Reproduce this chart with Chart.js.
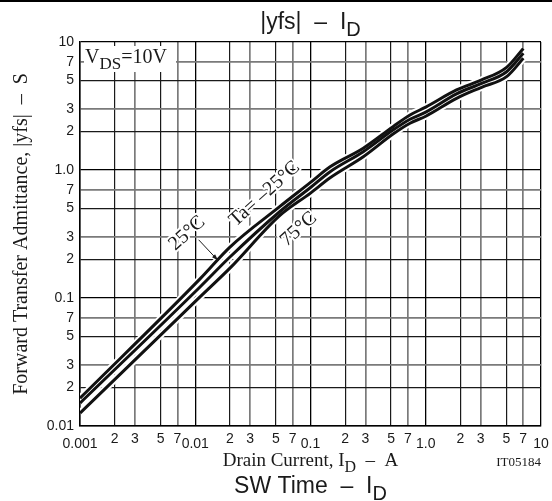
<!DOCTYPE html>
<html><head><meta charset="utf-8">
<script src="https://cdn.jsdelivr.net/npm/chart.js@4.4.0/dist/chart.umd.min.js"></script>
<style>html,body{margin:0;padding:0;background:#fff;}#wrap{width:552px;height:501px;}</style>
</head><body><div id="wrap"><canvas id="c" width="552" height="501"></canvas></div>
<script>
const drainCurrent = [0.001, 0.011, 0.02, 0.054, 0.1, 0.148, 0.287, 0.52, 0.73, 1.0, 1.85, 3.05, 5.03, 7.03];
const yfsTaMinus25 = [0.0165, 0.141, 0.25, 0.517, 0.80, 1.06, 1.48, 2.18, 2.69, 3.1, 4.22, 5.05, 6.34, 8.9];
const yfsTa25 = [0.0151, 0.122, 0.209, 0.472, 0.73, 0.97, 1.39, 2.05, 2.49, 2.83, 3.93, 4.75, 5.86, 8.17];
const yfsTa75 = [0.0126, 0.102, 0.171, 0.44, 0.66, 0.87, 1.27, 1.91, 2.32, 2.63, 3.63, 4.43, 5.36, 7.46];
const seriesLabels = ['Ta= \u201325\u00b0C', '25\u00b0C', '75\u00b0C'];
const xTickValues = [0.001,0.002,0.003,0.005,0.007,0.01,0.02,0.03,0.05,0.07,0.1,0.2,0.3,0.5,0.7,1,2,3,5,7,10];
const xTickLabels = ['0.001','2','3','5','7','0.01','2','3','5','7','0.1','2','3','5','7','1.0','2','3','5','7','10'];
const yTickValues = [0.01,0.02,0.03,0.05,0.07,0.1,0.2,0.3,0.5,0.7,1,2,3,5,7,10];
const yTickLabels = ['0.01','2','3','5','7','0.1','2','3','5','7','1.0','2','3','5','7','10'];

const SANS = '"Liberation Sans", Arial, sans-serif';
const SERIF = '"Liberation Serif", "Times New Roman", serif';

function pts(ys){ return drainCurrent.map((x,i)=>({x:x, y:ys[i]})); }
const allSeries = [yfsTaMinus25, yfsTa25, yfsTa75];
const datasets = [];
allSeries.forEach((s,i)=>{
  datasets.push({label: seriesLabels[i]+' halo', data: pts(s), borderColor:'#fff', borderWidth:7, pointRadius:0, cubicInterpolationMode:'monotone', order:1});
});
allSeries.forEach((s,i)=>{
  datasets.push({label: seriesLabels[i], data: pts(s), borderColor:'#111', borderWidth:3, pointRadius:0, cubicInterpolationMode:'monotone', order:0});
});

function isDecade(v){ const l = Math.log10(v); return Math.abs(l - Math.round(l)) < 1e-6; }
function mant(v){ return Math.round(v / Math.pow(10, Math.floor(Math.log10(v)+1e-9))); }
function gridColor(v){
  if (isDecade(v)) return '#000';
  const m = mant(v);
  return (m===3||m===7) ? '#7a7a7a' : '#1a1a1a';
}
function gridWidth(v){
  if (isDecade(v)) return 1.3;
  const m = mant(v);
  return (m===3||m===7) ? 1.7 : 1.2;
}

function rich(ctx, parts, x, y, align, size, family){
  let w = 0;
  const meas = parts.map(p=>{
    ctx.font = (p.sub ? Math.round(size*0.85) : size) + 'px ' + family;
    const mw = ctx.measureText(p.t).width; w += mw; return mw;
  });
  let cx = align==='center' ? x - w/2 : (align==='right' ? x - w : x);
  ctx.textAlign = 'left'; ctx.textBaseline = 'alphabetic';
  parts.forEach((p,i)=>{
    ctx.font = (p.sub ? Math.round(size*0.85) : size) + 'px ' + family;
    ctx.fillText(p.t, cx, y + (p.sub ? size*0.3 : 0));
    cx += meas[i];
  });
  return w;
}

const textPlugin = {
  id:'texts',
  afterDraw(chart){
    const ctx = chart.ctx, xs = chart.scales.x, ys = chart.scales.y, a = chart.chartArea;
    ctx.save();
    ctx.fillStyle = '#000'; ctx.fillRect(0,0,552,2);
    ctx.fillStyle = '#1a1a1a';
    ctx.font = '14px ' + SANS; ctx.textAlign='right'; ctx.textBaseline='middle';
    yTickValues.forEach((v,i)=>{ ctx.fillText(yTickLabels[i], a.left - 6, ys.getPixelForValue(v)); });
    ctx.textAlign='center'; ctx.textBaseline='top';
    xTickValues.forEach((v,i)=>{
      const dec = isDecade(v);
      ctx.fillText(xTickLabels[i], xs.getPixelForValue(v), a.bottom + (dec ? 11 : 6));
    });
    const midX = (a.left + a.right)/2;
    rich(ctx, [{t:'|yfs|  \u2013  I'},{t:'D', sub:true}], midX, 29, 'center', 23, SANS);
    rich(ctx, [{t:'SW Time  \u2013  I'},{t:'D', sub:true}], midX, 493, 'center', 23, SANS);
    rich(ctx, [{t:'Drain Current, I'},{t:'D', sub:true},{t:'  \u2013  A'}], midX, 466, 'center', 19, SERIF);
    ctx.font = '13px ' + SERIF; ctx.textAlign='right'; ctx.textBaseline='alphabetic';
    ctx.fillText('IT05184', a.right, 466);
    ctx.save();
    ctx.translate(27, (a.top + a.bottom)/2);
    ctx.rotate(-Math.PI/2);
    rich(ctx, [{t:'Forward Transfer Admittance, |yfs|  \u2013  S'}], 0, 0, 'center', 20, SERIF);
    ctx.restore();
    ctx.fillStyle = '#fff';
    ctx.fillRect(a.left + 4, a.top + 4, 92, 26);
    ctx.fillStyle = '#1a1a1a';
    rich(ctx, [{t:'V'},{t:'DS', sub:true},{t:'=10V'}], a.left + 5, a.top + 21, 'left', 20, SERIF);
    function rot(text, x, y, ang){
      ctx.save(); ctx.translate(x,y); ctx.rotate(ang);
      ctx.font = '20px ' + SERIF; ctx.textAlign='center'; ctx.textBaseline='middle';
      ctx.lineWidth = 4; ctx.strokeStyle='#fff'; ctx.lineJoin='round';
      ctx.strokeText(text,0,0); ctx.fillStyle='#1a1a1a'; ctx.fillText(text,0,0);
      ctx.restore();
    }
    const ang = -42*Math.PI/180;
    rot('25\u00b0C', xs.getPixelForValue(0.0085), ys.getPixelForValue(0.32), ang);
    rot(seriesLabels[0], xs.getPixelForValue(0.040), ys.getPixelForValue(0.65), ang);
    rot('75\u00b0C', xs.getPixelForValue(0.079), ys.getPixelForValue(0.345), ang);
    const x0 = xs.getPixelForValue(0.0107), y0 = ys.getPixelForValue(0.285);
    const x1 = xs.getPixelForValue(0.0158), y1 = ys.getPixelForValue(0.196);
    ctx.strokeStyle='#1a1a1a'; ctx.lineWidth=1;
    ctx.beginPath(); ctx.moveTo(x0,y0); ctx.lineTo(x1,y1); ctx.stroke();
    const th = Math.atan2(y1-y0, x1-x0);
    ctx.beginPath(); ctx.moveTo(x1,y1);
    ctx.lineTo(x1 - 7*Math.cos(th-0.3), y1 - 7*Math.sin(th-0.3));
    ctx.lineTo(x1 - 7*Math.cos(th+0.3), y1 - 7*Math.sin(th+0.3));
    ctx.closePath(); ctx.fillStyle='#1a1a1a'; ctx.fill();
    ctx.restore();
  }
};

new Chart(document.getElementById('c'), {
  type:'line',
  data:{datasets},
  options:{
    responsive:false, animation:false, devicePixelRatio:1,
    layout:{padding:{left:80, right:11, top:42, bottom:75}},
    plugins:{legend:{display:false}, tooltip:{enabled:false}},
    scales:{
      x:{type:'logarithmic', min:0.001, max:10,
        afterBuildTicks:(s)=>{ s.ticks = xTickValues.map(v=>({value:v})); },
        ticks:{display:false},
        grid:{drawTicks:false, color:(c)=>gridColor(c.tick.value), lineWidth:(c)=>gridWidth(c.tick.value)},
        border:{display:true, color:'#000', width:1.5}},
      y:{type:'logarithmic', min:0.01, max:10,
        afterBuildTicks:(s)=>{ s.ticks = yTickValues.map(v=>({value:v})); },
        ticks:{display:false},
        grid:{drawTicks:false, color:(c)=>gridColor(c.tick.value), lineWidth:(c)=>gridWidth(c.tick.value)},
        border:{display:true, color:'#000', width:1.5}}
    }
  },
  plugins:[textPlugin]
});
</script></body></html>
